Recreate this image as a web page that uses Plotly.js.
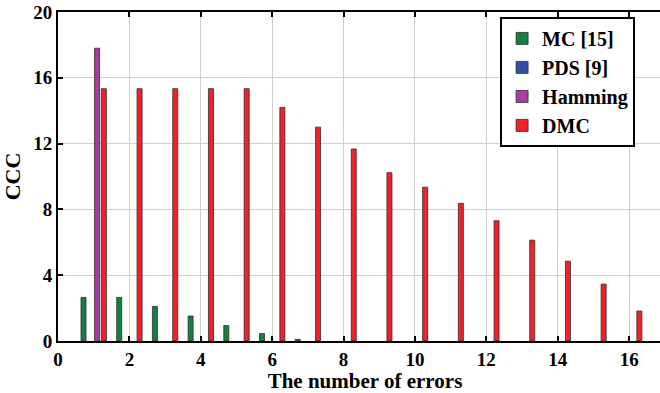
<!DOCTYPE html>
<html>
<head>
<meta charset="utf-8">
<script src="https://cdn.plot.ly/plotly-3.0.1.min.js"></script>
<style>
html,body{margin:0;padding:0;overflow:hidden;background:#fff;}
#chart{width:680px;height:393px;}
</style>
</head>
<body>
<div id="chart"></div>
<script>
const errors = [1,2,3,4,5,6,7,8,9,10,11,12,13,14,15,16];
const seriesNames = ["MC [15]", "PDS [9]", "Hamming", "DMC"];
const mcValues      = [2.65,2.65,2.1,1.52,0.94,0.45,0.1,0,0,0,0,0,0,0,0,0];
const pdsValues     = [0,0,0,0,0,0,0,0,0,0,0,0,0,0,0,0];
const hammingValues = [17.8,0,0,0,0,0,0,0,0,0,0,0,0,0,0,0];
const dmcValues     = [15.34,15.34,15.34,15.34,15.34,14.2,13.0,11.67,10.23,9.35,8.37,7.31,6.13,4.85,3.46,1.82];
const xTicks = [0,2,4,6,8,10,12,14,16];
const yTicks = [0,4,8,12,16,20];

const colors = ["#128040", "#3050a8", "#a040a0", "#ee2229"];
const allValues = [mcValues, pdsValues, hammingValues, dmcValues];

const traces = allValues.map((vals, i) => ({
  type: "bar",
  name: seriesNames[i],
  x: errors,
  y: vals.map(v => (v === 0 ? null : v)),
  marker: {color: colors[i], line: {color: "#3a2a2a", width: 0.8}},
  hoverinfo: "x+y+name"
}));

const serif = "Liberation Serif";

const layout = {
  width: 680,
  height: 393,
  margin: {l: 58, r: 8, t: 12, b: 52},
  paper_bgcolor: "#fff",
  plot_bgcolor: "#fff",
  font: {family: serif},
  barmode: "group",
  bargap: 0.24,
  bargroupgap: 0.26,
  showlegend: true,
  legend: {
    x: 0.72, y: 0.985, xanchor: "left", yanchor: "top",
    bgcolor: "#fff", bordercolor: "#000", borderwidth: 2,
    font: {family: serif, size: 20, color: "#000", weight: "bold"},
    tracegroupgap: 0,
    itemwidth: 30
  },
  xaxis: {
    range: [0, 17.2],
    tickvals: xTicks,
    ticktext: xTicks.map(String),
    ticks: "inside", ticklen: 5, tickwidth: 2, tickcolor: "#000",
    showline: true, linecolor: "#000", linewidth: 2, mirror: "ticks",
    showgrid: true, gridcolor: "#cfcfcf", gridwidth: 1,
    zeroline: false,
    ticklabeloverflow: "allow",
    tickfont: {family: serif, size: 19, color: "#000", weight: "bold"},
    title: {text: "The number of errors", font: {family: serif, size: 21, color: "#000", weight: "bold"}, standoff: 0}
  },
  yaxis: {
    range: [0, 20],
    tickvals: yTicks,
    ticktext: yTicks.map(String),
    ticks: "inside", ticklen: 5, tickwidth: 2, tickcolor: "#000",
    showline: true, linecolor: "#000", linewidth: 2, mirror: "ticks",
    showgrid: true, gridcolor: "#cfcfcf", gridwidth: 1,
    zeroline: false,
    ticklabeloverflow: "allow",
    tickfont: {family: serif, size: 19, color: "#000", weight: "bold"},
    title: {text: "CCC", font: {family: serif, size: 22, color: "#000", weight: "bold"}, standoff: 12}
  }
};

Plotly.newPlot("chart", traces, layout, {staticPlot: true, displayModeBar: false});
</script>
</body>
</html>
